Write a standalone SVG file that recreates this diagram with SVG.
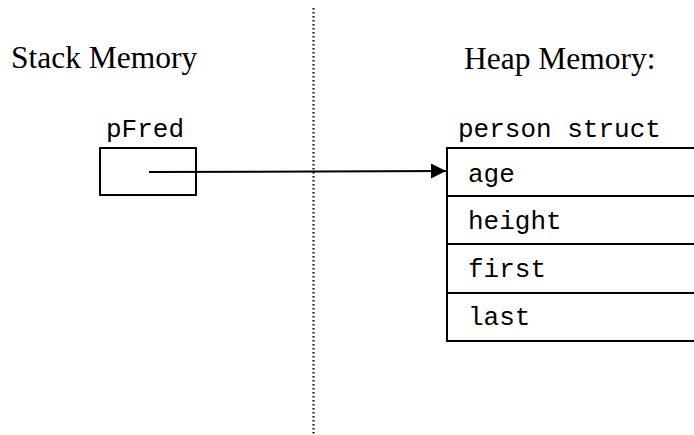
<svg xmlns="http://www.w3.org/2000/svg" width="694" height="435" viewBox="0 0 694 435">
<style>
.title{font-family:"Liberation Serif","Times New Roman",serif;font-size:31.5px;fill:#000}
.mono{font-family:"Liberation Mono","Courier New",monospace;font-size:26px;fill:#000}
.box{fill:#fff;stroke:#000;stroke-width:2}
.conn{stroke:#000;stroke-width:2;fill:none}
</style>
<defs>
<marker id="arr" markerUnits="userSpaceOnUse" markerWidth="16" markerHeight="16" refX="15" refY="8" orient="auto">
<path d="M0,0.5 L15,8 L0,15.5 Z" fill="#000"/>
</marker>
</defs>
<line x1="313.5" y1="8" x2="313.5" y2="435" stroke="#000" stroke-width="2" stroke-dasharray="1.6 2.4"/>
<text class="title" x="11" y="68">Stack Memory</text>
<text class="title" x="464" y="69">Heap Memory:</text>
<g id="pFred">
<text class="mono" x="106" y="137">pFred</text>
<rect class="box" x="100" y="148" width="96" height="47"/>
</g>
<g id="person">
<text class="mono" x="458" y="137">person struct</text>
<rect class="box" x="447" y="148" width="260" height="48"/>
<rect class="box" x="447" y="196" width="260" height="48"/>
<rect class="box" x="447" y="244" width="260" height="49"/>
<rect class="box" x="447" y="293" width="260" height="48"/>
<text class="mono" x="468" y="182">age</text>
<text class="mono" x="468" y="229">height</text>
<text class="mono" x="468" y="277">first</text>
<text class="mono" x="468" y="325">last</text>
</g>
<g id="connectors">
<line class="conn" x1="149" y1="172" x2="446" y2="171" marker-end="url(#arr)"/>
</g>
</svg>
